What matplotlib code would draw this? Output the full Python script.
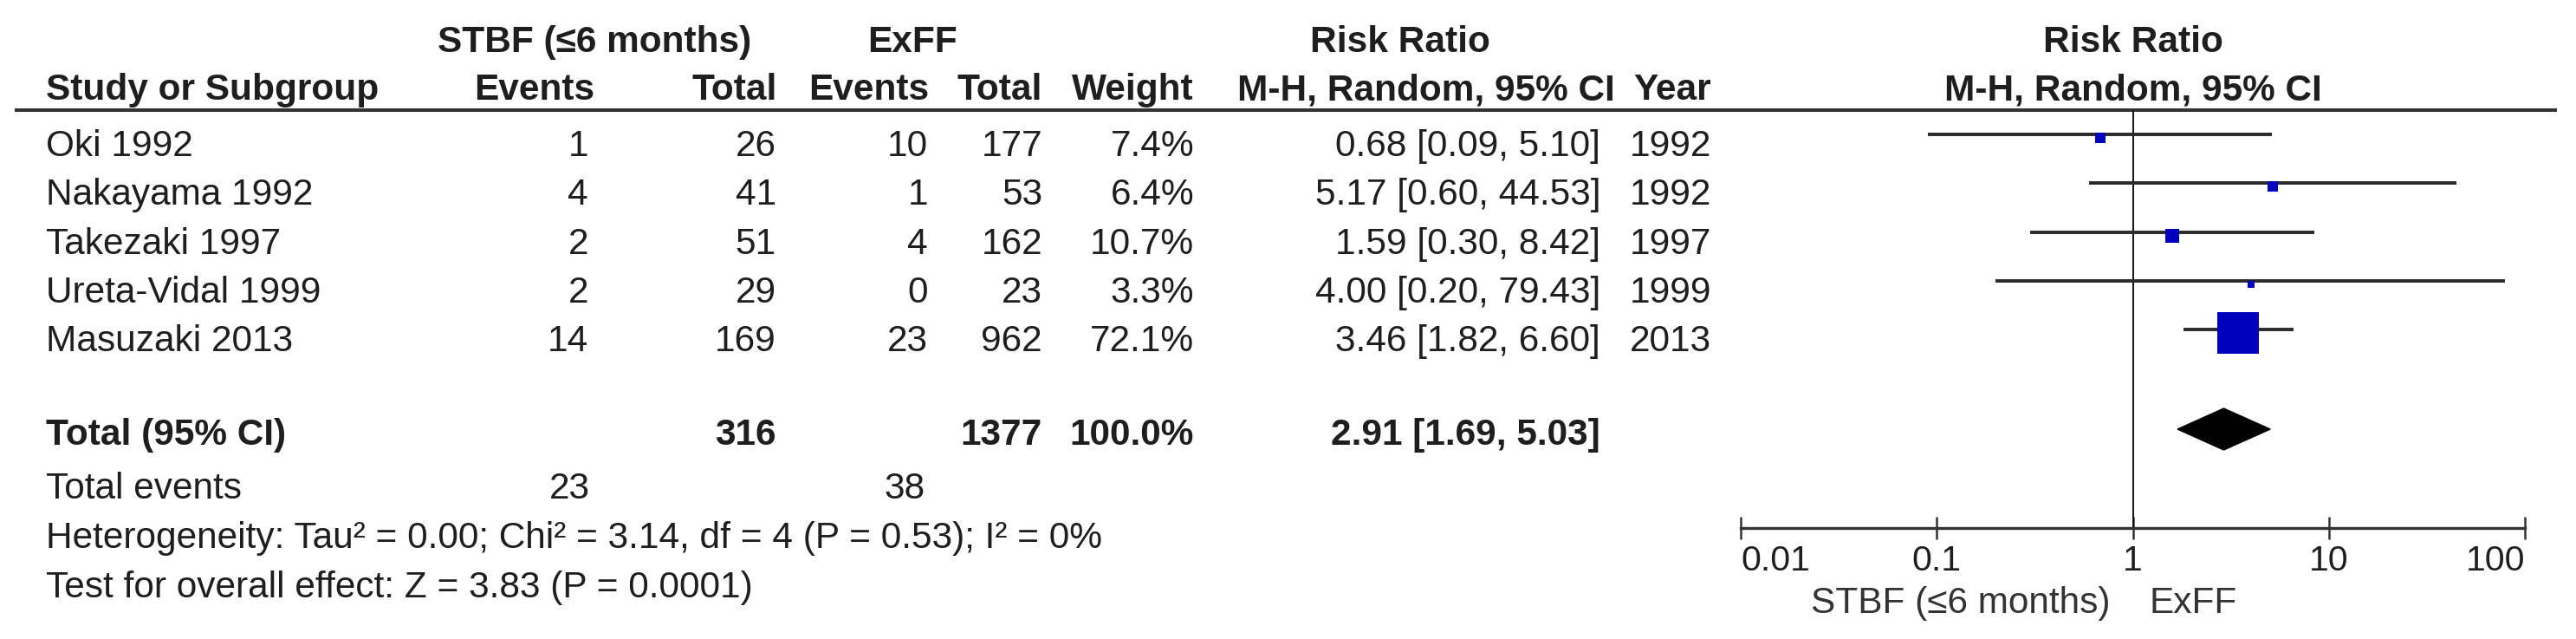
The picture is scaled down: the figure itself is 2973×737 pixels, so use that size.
import numpy as np
import matplotlib
matplotlib.use('Agg')
import matplotlib.pyplot as plt

plt.rcParams['font.family'] = ['Liberation Sans', 'DejaVu Sans']

# study data
studies = ['Oki 1992', 'Nakayama 1992', 'Takezaki 1997', 'Ureta-Vidal 1999', 'Masuzaki 2013']
stbf_events = [1, 4, 2, 2, 14]
stbf_total = [26, 41, 51, 29, 169]
exff_events = [10, 1, 4, 0, 23]
exff_total = [177, 53, 162, 23, 962]
weights = [7.4, 6.4, 10.7, 3.3, 72.1]
rr = [0.68, 5.17, 1.59, 4.00, 3.46]
ci_low = [0.09, 0.60, 0.30, 0.20, 1.82]
ci_high = [5.10, 44.53, 8.42, 79.43, 6.60]
years = [1992, 1992, 1997, 1999, 2013]

# pooled result
total_n = [316, 1377]
total_weight = 100.0
total_events = [23, 38]
total_rr = [2.91, 1.69, 5.03]
heterogeneity = 'Heterogeneity: Tau\u00b2 = 0.00; Chi\u00b2 = 3.14, df = 4 (P = 0.53); I\u00b2 = 0%'
overall_effect = 'Test for overall effect: Z = 3.83 (P = 0.0001)'

ticks = [0.01, 0.1, 1, 10, 100]
tick_labels = ['0.01', '0.1', '1', '10', '100']
left_label = 'STBF (\u22646 months)'
right_label = 'ExFF'

# layout (pixels)
W, H = 2973, 737
FS = 30.5
TXT = '#1e1e1e'
ROW0 = 166
ROW_H = 56.3
TOTAL_Y = 499

fig = plt.figure(figsize=(W / 100, H / 100), dpi=100)
tx = fig.add_axes([0, 0, 1, 1])
tx.set_xlim(0, W)
tx.set_ylim(H, 0)
tx.axis('off')


def put(x, y, s, ha='right', bold=False, color=TXT, size=FS):
    tx.text(x, y, s, ha=ha, va='baseline', fontsize=size, color=color,
            fontweight='bold' if bold else 'normal')


# headers
put(686, 60, left_label, ha='center', bold=True)
put(1053, 60, 'ExFF', ha='center', bold=True)
put(1616, 60, 'Risk Ratio', ha='center', bold=True)
put(2462, 60, 'Risk Ratio', ha='center', bold=True)
put(53, 115, 'Study or Subgroup', ha='left', bold=True)
put(686, 115, 'Events', bold=True)
put(897, 115, 'Total', bold=True)
put(1072, 115, 'Events', bold=True)
put(1203, 115, 'Total', bold=True)
put(1378, 115, 'Weight', bold=True)
put(1864, 115, 'M-H, Random, 95% CI', bold=True)
put(1975, 115, 'Year', bold=True)
put(2462, 115, 'M-H, Random, 95% CI', ha='center', bold=True)
tx.plot([17, 2951], [127, 127], color='#333333', lw=2.9, solid_capstyle='butt')

# study rows
for i, name in enumerate(studies):
    yb = ROW0 + i * ROW_H + 14
    put(53, yb, name, ha='left')
    put(679, yb, str(stbf_events[i]))
    put(896, yb, str(stbf_total[i]))
    put(1071, yb, str(exff_events[i]))
    put(1203, yb, str(exff_total[i]))
    put(1378, yb, f'{weights[i]:.1f}%')
    put(1847, yb, f'{rr[i]:.2f} [{ci_low[i]:.2f}, {ci_high[i]:.2f}]')
    put(1975, yb, str(years[i]))

# totals
yb = TOTAL_Y + 14
put(53, yb, 'Total (95% CI)', ha='left', bold=True)
put(896, yb, str(total_n[0]), bold=True)
put(1203, yb, str(total_n[1]), bold=True)
put(1378, yb, f'{total_weight:.1f}%', bold=True)
put(1847, yb, f'{total_rr[0]:.2f} [{total_rr[1]:.2f}, {total_rr[2]:.2f}]', bold=True)
put(53, 575, 'Total events', ha='left')
put(681, 575, str(total_events[0]))
put(1068, 575, str(total_events[1]))
put(53, 632, heterogeneity, ha='left')
put(53, 689, overall_effect, ha='left')

# forest plot axes, y in the same pixel units as the text layer
ax_top, ax_bot = 127, 609
fx = fig.add_axes([2009 / W, (H - ax_bot) / H, 905 / W, (ax_bot - ax_top) / H])
fx.patch.set_visible(False)
fx.set_xscale('log')
fx.set_xlim(0.01, 100)
fx.set_ylim(ax_bot, ax_top)
for s in ['top', 'left', 'right']:
    fx.spines[s].set_visible(False)
fx.spines['bottom'].set_color('#333333')
fx.spines['bottom'].set_linewidth(2.4)
fx.set_yticks([])
fx.set_xticks(ticks)
fx.set_xticklabels(tick_labels)
fx.xaxis.set_minor_locator(matplotlib.ticker.NullLocator())
fx.tick_params(axis='x', direction='inout', length=19, width=1.8, color='#333333',
               labelsize=29.5, labelcolor=TXT, pad=4)
labels = fx.get_xticklabels()
labels[0].set_horizontalalignment('left')
labels[-1].set_horizontalalignment('right')

fx.axvline(1, color='#111111', lw=1.4)

for i in range(len(studies)):
    yl = ROW0 + i * ROW_H - 11
    fx.plot([ci_low[i], ci_high[i]], [yl, yl], color='#2a2a2a', lw=2.8,
            solid_capstyle='butt', zorder=2)
    side = 48 * (weights[i] / max(weights)) ** 0.6
    fx.scatter([rr[i]], [yl + 4], marker='s', s=(side * 0.72) ** 2,
               color='#0000bf', linewidths=0, zorder=3)

yd = TOTAL_Y - 4
fx.fill([total_rr[1], total_rr[0], total_rr[2], total_rr[0]],
        [yd, yd - 24, yd, yd + 24], color='black', zorder=3)

put(2436, 707, left_label, ha='right', color='#333333')
put(2480, 707, right_label, ha='left', color='#333333')

fig.savefig('out.png', dpi=100)
